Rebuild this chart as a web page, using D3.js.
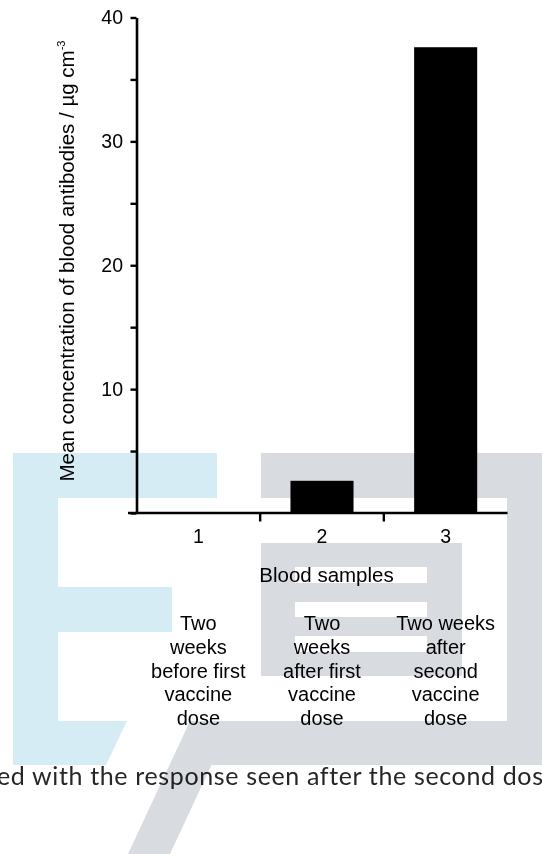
<!DOCTYPE html>
<html>
<head>
<meta charset="utf-8">
<script src="https://cdn.jsdelivr.net/npm/d3@7/dist/d3.min.js"></script>
<style>
  html, body { margin: 0; padding: 0; background: #fff; }
  svg { display: block; }
  .wm { mix-blend-mode: multiply; }
</style>
</head>
<body>
<svg id="chart" width="542" height="854"></svg>
<script>
// ---- data ----
const categories = ["1", "2", "3"];
const values = [0, 2.6, 37.6];
const groupLabels = [
  ["Two", "weeks", "before first", "vaccine", "dose"],
  ["Two", "weeks", "after first", "vaccine", "dose"],
  ["Two weeks", "after", "second", "vaccine", "dose"]
];
const yMajorTicks = [0, 10, 20, 30, 40];
const yMinorTicks = [5, 15, 25, 35];
const yTitle = "Mean concentration of blood antibodies / \u00b5g cm";
const yTitleSup = "-3";
const xTitle = "Blood samples";
const footerText = "ed with the response seen after the second dose";

// ---- layout ----
const W = 542, H = 854;
const svg = d3.select("#chart");
svg.append("rect").attr("width", W).attr("height", H).attr("fill", "#fff");

const FONT = "'Liberation Sans', Arial, Helvetica, sans-serif";
const x = d3.scaleBand().domain(categories).range([136.5, 507.5]).padding(0);
const y = d3.scaleLinear().domain([0, 40]).range([513, 17.5]);

const g = svg.append("g");

// bars
const barFrac = 0.51;
g.selectAll("rect.bar").data(categories).join("rect")
  .attr("class", "bar")
  .attr("x", (d) => x(d) + x.bandwidth() * (1 - barFrac) / 2)
  .attr("width", x.bandwidth() * barFrac)
  .attr("y", (d, i) => y(values[i]))
  .attr("height", (d, i) => y(0) - y(values[i]))
  .attr("fill", "#000");

// y axis (major)
const yAxis = d3.axisLeft(y).tickValues(yMajorTicks).tickSize(6).tickSizeOuter(0).tickPadding(7.5)
  .tickFormat(d3.format("d"));
const yg = g.append("g").attr("transform", `translate(${x.range()[0]},0)`).call(yAxis);
yg.select(".domain").attr("stroke", "#000").attr("stroke-width", 2.6);
yg.selectAll(".tick line").attr("stroke", "#000").attr("stroke-width", 2.4);
yg.selectAll(".tick text").attr("font-family", FONT).attr("font-size", 19.5).attr("fill", "#000");
yg.selectAll(".tick").filter(d => d === 0).select("text").remove();
// y axis (minor)
const yMinor = d3.axisLeft(y).tickValues(yMinorTicks).tickSize(6).tickSizeOuter(0).tickFormat("");
const ym = g.append("g").attr("transform", `translate(${x.range()[0]},0)`).call(yMinor);
ym.select(".domain").remove();
ym.selectAll(".tick line").attr("stroke", "#000").attr("stroke-width", 2.4);

// x axis line + separators
const x0 = x.range()[0], x1 = x.range()[1];
g.append("line").attr("x1", x0 - 8.5).attr("x2", x1).attr("y1", y(0)).attr("y2", y(0))
  .attr("stroke", "#000").attr("stroke-width", 2.6);
g.selectAll("line.sep").data(categories.slice(1)).join("line")
  .attr("class", "sep")
  .attr("x1", d => x(d)).attr("x2", d => x(d))
  .attr("y1", y(0)).attr("y2", y(0) + 8.5)
  .attr("stroke", "#000").attr("stroke-width", 2.4);

// category labels
g.selectAll("text.cat").data(categories).join("text")
  .attr("class", "cat")
  .attr("x", d => x(d) + x.bandwidth() / 2)
  .attr("y", 543)
  .attr("text-anchor", "middle")
  .attr("font-family", FONT).attr("font-size", 19.5).attr("fill", "#000")
  .text(d => d);

// x title
g.append("text").attr("x", 326.5).attr("y", 582).attr("text-anchor", "middle")
  .attr("font-family", FONT).attr("font-size", 20.5).attr("fill", "#000").text(xTitle);

// group description labels
categories.forEach((c, i) => {
  const t = g.append("text")
    .attr("x", x(c) + x.bandwidth() / 2)
    .attr("y", 630)
    .attr("text-anchor", "middle")
    .attr("font-family", FONT).attr("font-size", 20).attr("fill", "#000");
  groupLabels[i].forEach((ln, j) => {
    t.append("tspan").attr("x", x(c) + x.bandwidth() / 2).attr("dy", j === 0 ? 0 : 23.8).text(ln);
  });
});

// y title
const yt = g.append("text")
  .attr("transform", "translate(74,261) rotate(-90)")
  .attr("text-anchor", "middle")
  .attr("font-family", FONT).attr("font-size", 20.5).attr("fill", "#000");
yt.append("tspan").text(yTitle);
yt.append("tspan").attr("font-size", 11).attr("dy", -9).text(yTitleSup);

// footer (cropped sentence from the source page)
const ft = svg.append("text")
  .attr("x", -3).attr("y", 785)
  .attr("font-family", "Lato, Inter, sans-serif")
  .attr("font-size", 25).attr("fill", "#262626")
  .text(footerText);
const wPrefix = ft.node().getSubStringLength(0, 46);
ft.attr("letter-spacing", ((546 - wPrefix) / 46).toFixed(2));

// watermark overlay (decorative)
const wm = svg.append("g").attr("class", "wm");
const blue = "#d6ecf5", gray = "#d8dce1";
const blueRects = [[13, 453, 204, 45], [13, 453, 45, 312], [13, 587, 159, 45]];
blueRects.forEach(r => wm.append("rect").attr("x", r[0]).attr("y", r[1]).attr("width", r[2]).attr("height", r[3]).attr("fill", blue));
wm.append("polygon").attr("points", "13,721 127,721 106,765 13,765").attr("fill", blue);

const grayRects = [[261, 453, 281, 45], [507, 453, 35, 312]];
grayRects.forEach(r => wm.append("rect").attr("x", r[0]).attr("y", r[1]).attr("width", r[2]).attr("height", r[3]).attr("fill", gray));
wm.append("path").attr("fill-rule", "evenodd").attr("fill", gray)
  .attr("d", "M261,543H462V676H261Z M295,567H427V583H295Z M295,602H427V617H295Z M295,636H427V652H295Z");
wm.append("polygon").attr("points", "190,721 542,721 542,765 211.5,765 170,854 128,854").attr("fill", gray);
</script>
</body>
</html>
